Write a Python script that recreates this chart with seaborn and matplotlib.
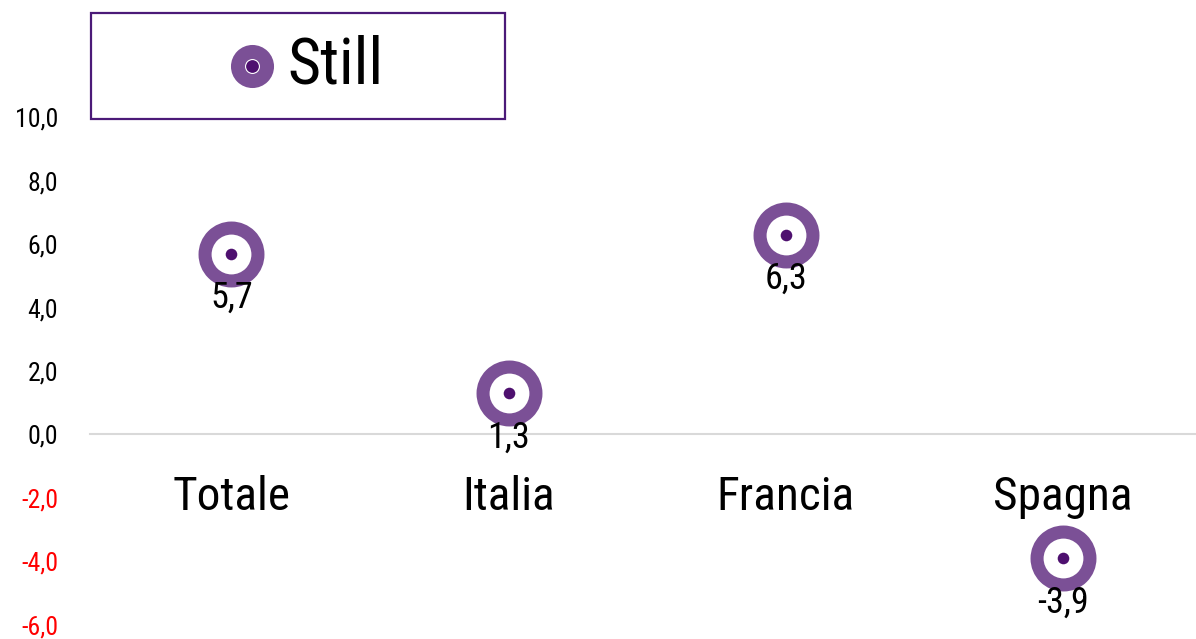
import matplotlib
matplotlib.use("Agg")
import matplotlib.pyplot as plt
from matplotlib.patches import Rectangle
from matplotlib.ticker import FuncFormatter
import seaborn as sns
import pandas as pd

# Variazione % per mercato
categories = ["Totale", "Italia", "Francia", "Spagna"]
values = [5.7, 1.3, 6.3, -3.9]
series_name = "Still"
y_ticks = [-6, -4, -2, 0, 2, 4, 6, 8, 10]

RING = "#7B5096"
CORE = "#4E106F"
FRAME = "#4B1A78"

sns.set_theme(style="white")
plt.rcParams["font.family"] = ["Liberation Sans Narrow", "Roboto Condensed", "Roboto", "DejaVu Sans"]

df = pd.DataFrame({"mercato": categories, "valore": values})

fig = plt.figure(figsize=(11.96, 6.39), dpi=100)
ax = fig.add_axes([90 / 1196, 0, 1 - 90 / 1196, 1])

# outer ring
sns.scatterplot(data=df, x="mercato", y="valore", ax=ax, s=1450, marker="o",
                facecolor="white", edgecolor=RING, linewidth=9.4, zorder=3, legend=False)
# inner dot
sns.scatterplot(data=df, x="mercato", y="valore", ax=ax, s=70, marker="o",
                color=CORE, edgecolor=CORE, linewidth=0, zorder=4, legend=False)

for i, v in enumerate(values):
    ax.annotate(f"{v:.1f}".replace(".", ","), (i, v), xytext=(0, -32),
                textcoords="offset points", ha="center", va="center",
                fontsize=26, color="black", zorder=5)

ax.set_xlim(-0.51, 3.48)
ax.set_ylim(-6.45, 13.7)
ax.set_yticks(y_ticks)
ax.yaxis.set_major_formatter(FuncFormatter(lambda v, p: f"{v:.1f}".replace(".", ",")))
ax.tick_params(axis="y", length=0, pad=23, labelsize=18.5)
for lab, t in zip(ax.get_yticklabels(), y_ticks):
    lab.set_color("red" if t < 0 else "black")

ax.set_xlabel("")
ax.set_ylabel("")
ax.tick_params(axis="x", length=0, pad=29, labelsize=34, labelcolor="black")
for side in ["top", "right", "left"]:
    ax.spines[side].set_visible(False)
ax.spines["bottom"].set_position(("data", 0))
ax.spines["bottom"].set_color("#D9D9D9")
ax.spines["bottom"].set_linewidth(1.5)

# legend box
fig.patches.append(Rectangle((91 / 1196, 1 - 119 / 639), 414 / 1196, 106 / 639,
                             transform=fig.transFigure, facecolor="white",
                             edgecolor=FRAME, linewidth=1.6, zorder=1))
lx, ly = 252 / 1196, 1 - 66 / 639
fig.add_artist(plt.Line2D([lx], [ly], transform=fig.transFigure, marker="o",
                          markersize=31, markerfacecolor=RING, markeredgecolor=RING,
                          markeredgewidth=0))
fig.add_artist(plt.Line2D([lx], [ly], transform=fig.transFigure, marker="o",
                          markersize=10, markerfacecolor=CORE, markeredgecolor="white",
                          markeredgewidth=0.8))
fig.text(287 / 1196, ly, series_name, fontsize=46, va="center", ha="left", color="black")

fig.savefig("out.png", dpi=100)
